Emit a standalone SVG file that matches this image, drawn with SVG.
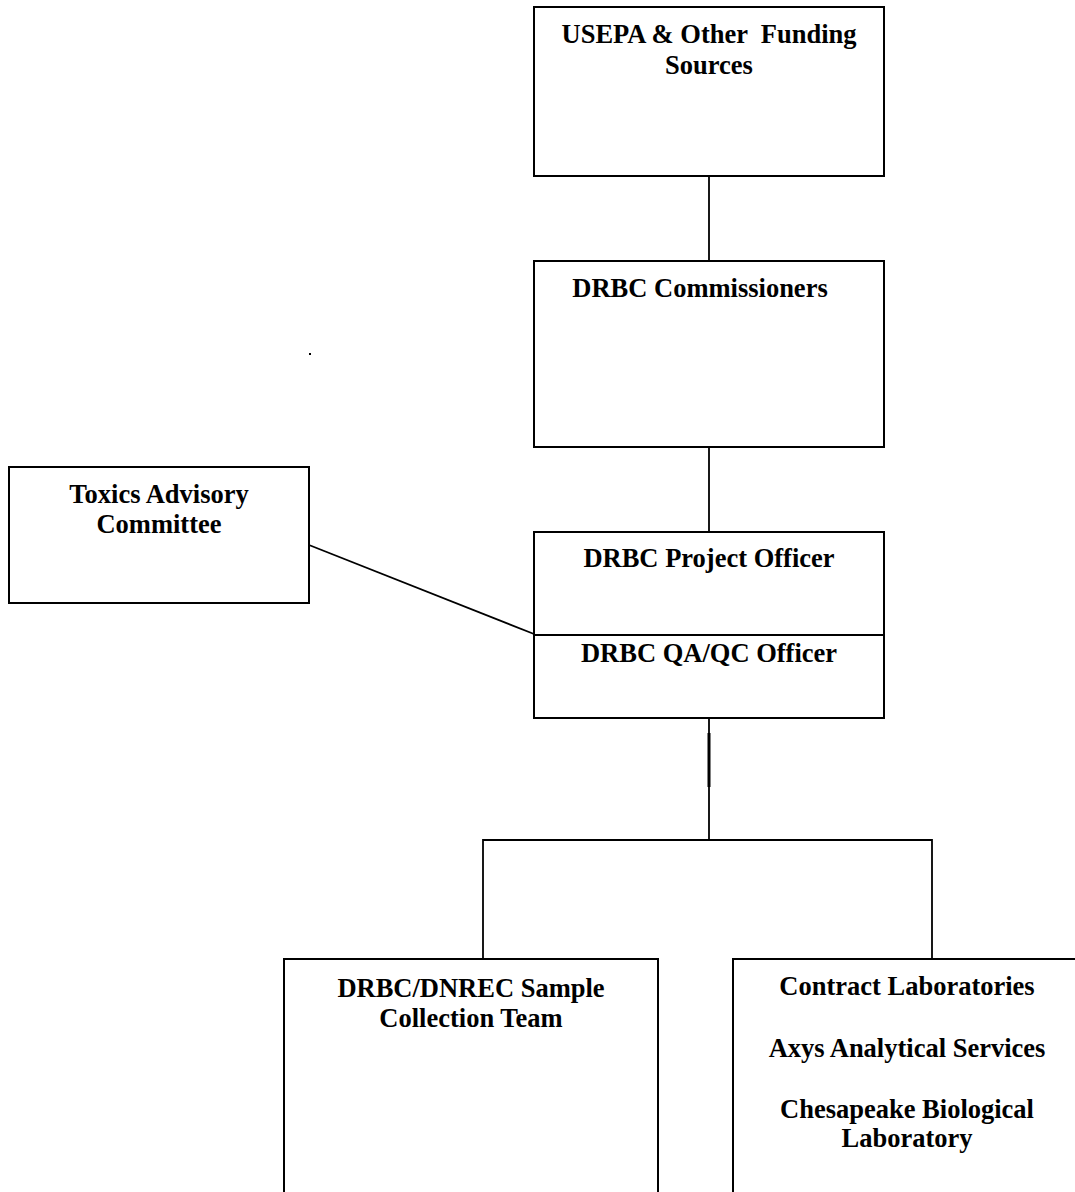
<svg xmlns="http://www.w3.org/2000/svg" width="1075" height="1192" viewBox="0 0 1075 1192">
<style>
.box{fill:#fff;stroke:#000;stroke-width:2}
.t{font-family:"Liberation Serif","Times New Roman",serif;font-weight:bold;font-size:26.5px;fill:#000;text-anchor:middle}
.c{fill:none;stroke:#000;stroke-width:1.8}
</style>
<rect width="1075" height="1192" fill="#fff"/>
<g id="connectors">
<line class="c" x1="709" y1="176" x2="709" y2="261"/>
<line class="c" x1="709" y1="447" x2="709" y2="532"/>
<line class="c" x1="309" y1="545" x2="534" y2="634"/>
<line class="c" x1="709" y1="718" x2="709" y2="840"/>
<line x1="709" y1="733" x2="709" y2="787" stroke="#000" stroke-width="3"/>
<polyline class="c" points="483,959 483,840 932,840 932,959"/>
</g>
<g id="usepa">
<rect class="box" x="534" y="7" width="350" height="169"/>
<text class="t" x="709" y="43" xml:space="preserve" style="white-space:pre">USEPA &amp; Other  Funding</text>
<text class="t" x="709" y="74">Sources</text>
</g>
<g id="commissioners">
<rect class="box" x="534" y="261" width="350" height="186"/>
<text class="t" x="700" y="297">DRBC Commissioners</text>
</g>
<rect x="309" y="353" width="2" height="2" fill="#000"/>
<g id="toxics">
<rect class="box" x="9" y="467" width="300" height="136"/>
<text class="t" x="159" y="503">Toxics Advisory</text>
<text class="t" x="159" y="533">Committee</text>
</g>
<g id="project-officer">
<rect class="box" x="534" y="532" width="350" height="186"/>
<line x1="534" y1="635" x2="884" y2="635" stroke="#000" stroke-width="2"/>
<text class="t" x="709" y="567">DRBC Project Officer</text>
<text class="t" x="709" y="662">DRBC QA/QC Officer</text>
</g>
<g id="sample-team">
<rect class="box" x="284" y="959" width="374" height="250"/>
<text class="t" x="471" y="997">DRBC/DNREC Sample</text>
<text class="t" x="471" y="1027">Collection Team</text>
</g>
<g id="contract-labs">
<rect class="box" x="733" y="959" width="350" height="250"/>
<text class="t" x="907" y="995">Contract Laboratories</text>
<text class="t" x="907" y="1057">Axys Analytical Services</text>
<text class="t" x="907" y="1118">Chesapeake Biological</text>
<text class="t" x="907" y="1147">Laboratory</text>
</g>
</svg>
